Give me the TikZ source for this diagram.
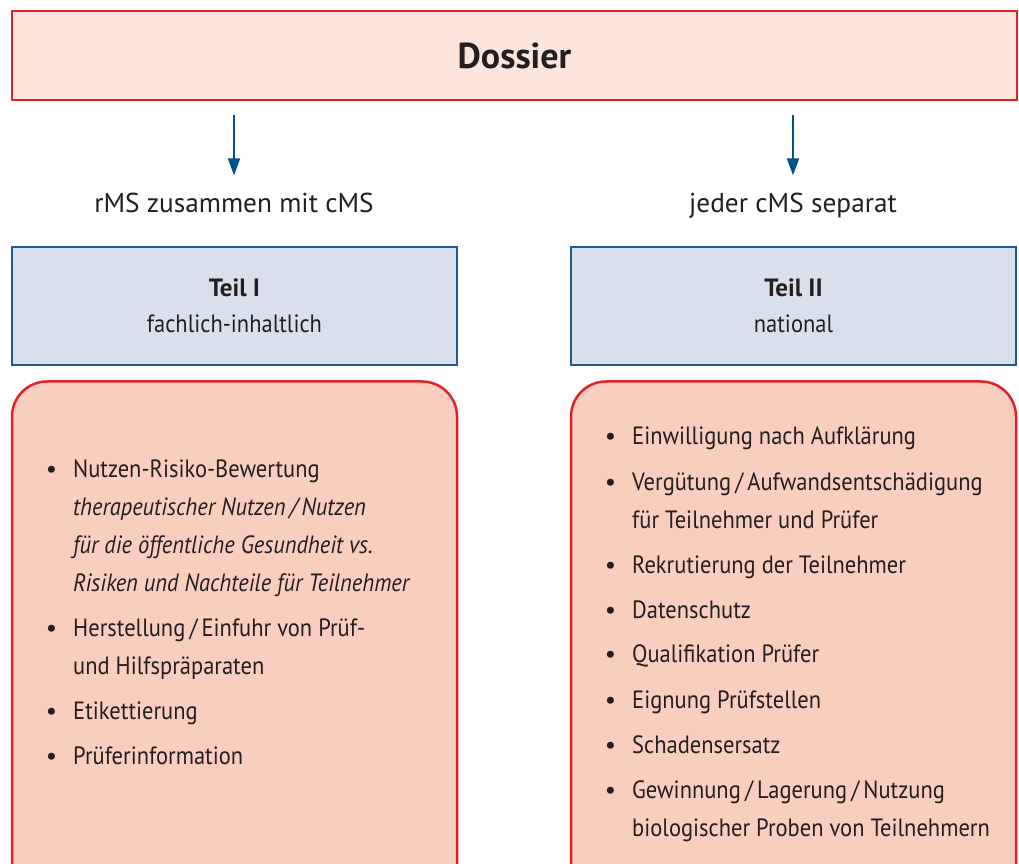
\documentclass[tikz,border=0pt]{standalone}
\usepackage{fontspec}
\setmainfont{PT Sans}
\newfontfamily\narrowfont{PT Sans}[FakeStretch=0.9]
\usetikzlibrary{positioning,arrows.meta}
\definecolor{frame-red}{HTML}{E42127}
\definecolor{dossier-fill}{HTML}{FCE5DB}
\definecolor{frame-blue}{HTML}{1D5A8E}
\definecolor{part-fill}{HTML}{D9E0EC}
\definecolor{items-fill}{HTML}{F8CEBE}
\definecolor{arrow-blue}{HTML}{00508A}
\definecolor{text-grey}{HTML}{231F20}
\newcommand{\bulletsetup}{\setlength{\itemsep}{7pt}\setlength{\parsep}{0pt}\setlength{\parskip}{0pt}\setlength{\labelsep}{16pt}}
\tikzset{
    dossier-box/.style = {draw=frame-red, fill=dossier-fill, line width=2.5pt, rectangle, minimum width=1005pt, minimum height=89pt, text=text-grey, font=\bfseries\fontsize{36}{40}\selectfont},
    part-box/.style = {draw=frame-blue, fill=part-fill, line width=2.5pt, rectangle, minimum width=445pt, minimum height=118pt, align=center, text=text-grey, font=\narrowfont\fontsize{25}{36}\selectfont},
    part-title/.style = {font=\rmfamily\bfseries},
    items-box/.style = {draw=frame-red, fill=items-fill, line width=2.5pt, rectangle, rounded corners=35pt, minimum width=445pt, minimum height=560pt, anchor=north},
    branch-label/.style = {inner sep=0pt, anchor=base, text=text-grey, font=\fontsize{27.3}{34}\selectfont},
    list-text/.style = {inner sep=0pt, anchor=base west, text=text-grey, font=\narrowfont\fontsize{25}{38}\selectfont},
    down-arrow/.style = {draw=arrow-blue, line width=2pt, -{Triangle[length=17pt,width=12pt]}},
}

\begin{document}
\begin{tikzpicture}[x=1pt, y=1pt]
\clip (0,0) rectangle (1019,863);
\node [dossier-box] (dossier) at (514.5,807.5) {Dossier};
\node [branch-label] (label-left) at (234,650) {rMS zusammen mit cMS};
\node [branch-label] (label-right) at (793,650) {jeder cMS separat};
\draw [down-arrow, shorten <=14pt, shorten >=18pt] (dossier.south -| label-left.north) -- (label-left.north);
\draw [down-arrow, shorten <=14pt, shorten >=18pt] (dossier.south -| label-right.north) -- (label-right.north);
\node [part-box] (part-one) at (234.5,557) {{\rmfamily\bfseries Teil I}\\fachlich-inhaltlich};
\node [part-box] (part-two) at (793.5,557) {{\rmfamily\bfseries Teil II}\\national};
\node [items-box, below=14pt of part-one] (items-one) {};
\node [items-box, below=14pt of part-two] (items-two) {};
% bullet lists
\setlength{\leftmargini}{25pt}
\node [list-text] (list-one) at (48,386) {\begin{minipage}[t]{400pt}\raggedright
    \begin{itemize}\bulletsetup
        \item Nutzen-Risiko-Bewertung\newline
              \textit{therapeutischer Nutzen\,/\,Nutzen\newline für die öffentliche Gesundheit vs.\newline Risiken und Nachteile für Teilnehmer}
        \item Herstellung\,/\,Einfuhr von Prüf-\newline und Hilfspräparaten
        \item Etikettierung
        \item Prüferinformation
    \end{itemize}
\end{minipage}};
\node [list-text] (list-two) at (607,418) {\begin{minipage}[t]{400pt}\raggedright
    \begin{itemize}\bulletsetup
        \item Einwilligung nach Aufklärung
        \item Vergütung\,/\,Aufwandsentschädigung\newline für Teilnehmer und Prüfer
        \item Rekrutierung der Teilnehmer
        \item Datenschutz
        \item Qualifikation Prüfer
        \item Eignung Prüfstellen
        \item Schadensersatz
        \item Gewinnung\,/\,Lagerung\,/\,Nutzung\newline biologischer Proben von Teilnehmern
    \end{itemize}
\end{minipage}};
\end{tikzpicture}
\end{document}
